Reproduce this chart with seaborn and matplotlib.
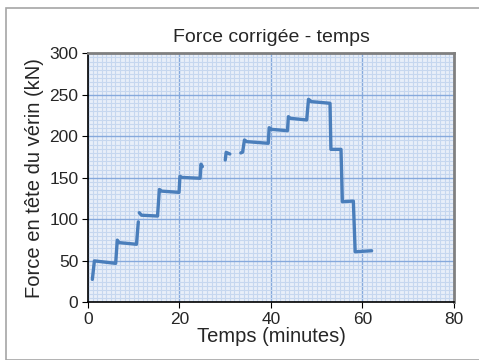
import matplotlib
matplotlib.use("Agg")
import matplotlib.pyplot as plt
from matplotlib.patches import Rectangle
from matplotlib.ticker import MultipleLocator
import pandas as pd
import seaborn as sns

# values
time_min = [0.95, 1.4, 6.05, 6.4, 6.8, 10.6, 11.0,
            11.2, 11.7, 15.2, 15.6, 16.1, 19.9, 20.1, 20.5, 24.5, 24.7, 25.0,
            30.0, 30.2, 31.0,
            33.4, 33.8, 34.2, 34.7, 39.4, 39.6, 40.1, 43.6, 43.8, 44.2, 47.8,
            48.2, 48.8, 52.9, 53.1, 55.3, 55.6, 58.0, 58.4, 62.0]
force_kn = [27.7, 50.0, 47.0, 75.0, 72.0, 70.0, 97.0,
            108.0, 105.0, 104.0, 136.0, 134.0, 132.5, 152.0, 150.5, 149.5, 166.5, 163.5,
            171.5, 180.7, 178.7,
            180.0, 181.0, 195.6, 193.6, 191.6, 210.4, 208.4, 206.8, 223.7, 221.7, 219.7,
            244.6, 241.8, 239.8, 184.3, 184.3, 121.3, 122.0, 61.0, 62.2]
segment = [0] * 7 + [1] * 11 + [2] * 3 + [3] * 20

df = pd.DataFrame({"temps": time_min, "force": force_kn, "seg": segment})

sns.set_style("white")
plt.rcParams["font.family"] = ["Liberation Sans", "DejaVu Sans"]

fig = plt.figure(figsize=(4.79, 3.6), dpi=100)
ax = fig.add_axes([0.1837, 0.160, 0.7641, 0.692])

# outer chart border
fig.patches.append(Rectangle((6 / 479, 0), 1.0, 1 - 8 / 360, transform=fig.transFigure,
                             fill=False, edgecolor="#a6a6a6", linewidth=1.2))

ax.set_facecolor("#e8eff9")
sns.lineplot(data=df, x="temps", y="force", units="seg", estimator=None, sort=False,
             color="#4a7ebb", linewidth=2.4, ax=ax, zorder=5)

ax.set_xlim(0, 80)
ax.set_ylim(0, 300)
ax.xaxis.set_major_locator(MultipleLocator(20))
ax.yaxis.set_major_locator(MultipleLocator(50))
ax.xaxis.set_minor_locator(MultipleLocator(1))
ax.yaxis.set_minor_locator(MultipleLocator(5))
ax.grid(which="minor", color="#c6d7ef", linewidth=0.8, zorder=0)
ax.grid(which="major", color="#86a9dc", linewidth=1.0, zorder=1)

ax.tick_params(which="major", direction="out", length=4, width=0.8, labelsize=12.5,
               bottom=True, left=True, color="black", pad=3)
ax.tick_params(which="minor", length=0)

for side in ["top", "right"]:
    ax.spines[side].set_color("#808080")
    ax.spines[side].set_linewidth(2)
for side in ["left", "bottom"]:
    ax.spines[side].set_color("black")
    ax.spines[side].set_linewidth(1.2)

ax.set_title("Force corrigée - temps", fontsize=14, pad=8)
ax.set_xlabel("Temps (minutes)", fontsize=14.5, labelpad=0)
ax.set_ylabel("Force en tête du vérin (kN)", fontsize=14.5, labelpad=4)

fig.savefig("out.png", dpi=100)
